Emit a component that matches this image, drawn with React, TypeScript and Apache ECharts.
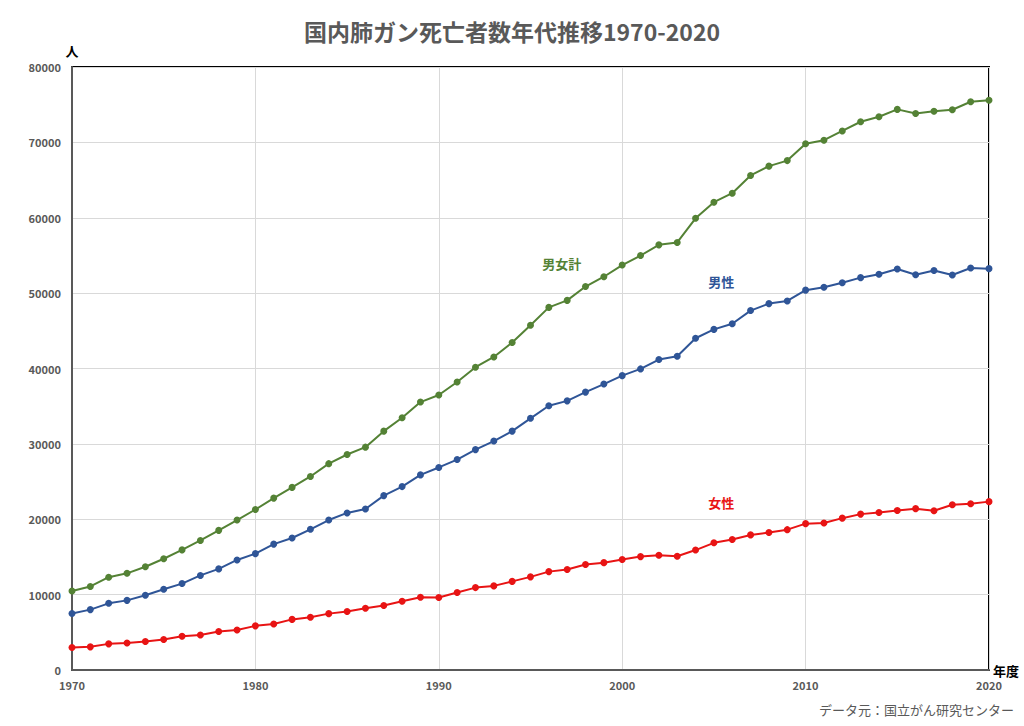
import React, { useEffect, useRef } from "react";
import * as echarts from "echarts";

const years: number[] = [];
for (let y = 1970; y <= 2020; y++) years.push(y);

const totalDeaths = [
  10489, 11082, 12312, 12825, 13697, 14759, 15934, 17192, 18525, 19895,
  21294, 22803, 24227, 25676, 27375, 28590, 29564, 31690, 33465, 35546,
  36486, 38204, 40172, 41535, 43450, 45745, 48106, 49036, 50871, 52176,
  53724, 54990, 56405, 56720, 59922, 62063, 63255, 65608, 66849, 67583,
  69813, 70293, 71518, 72734, 73396, 74378, 73838, 74120, 74328, 75394,
  75585,
];
const maleDeaths = [
  7502, 8010, 8845, 9238, 9908, 10711, 11465, 12548, 13414, 14599,
  15438, 16700, 17514, 18669, 19896, 20837, 21368, 23138, 24333, 25887,
  26872, 27921, 29239, 30375, 31693, 33389, 35054, 35707, 36868, 37934,
  39053, 39946, 41192, 41634, 44011, 45189, 45941, 47685, 48610, 48964,
  50395, 50782, 51372, 52054, 52505, 53208, 52430, 53002, 52401, 53338,
  53247,
];
const femaleDeaths = [
  2987, 3072, 3467, 3587, 3789, 4048, 4469, 4644, 5111, 5296,
  5856, 6103, 6713, 7007, 7479, 7753, 8196, 8552, 9132, 9659,
  9614, 10283, 10933, 11160, 11757, 12356, 13052, 13329, 14003, 14242,
  14671, 15044, 15213, 15086, 15911, 16874, 17314, 17923, 18239, 18619,
  19418, 19511, 20146, 20680, 20891, 21170, 21408, 21118, 21927, 22056,
  22338,
];

const seriesNames = ["男女計", "男性", "女性"];
const seriesColors = ["#548235", "#2f5597", "#e81414"];
const labelAnchors: [number, number][] = [
  [1996.7, 53900],
  [2005.4, 51500],
  [2005.4, 22200],
];

const FONT = "'Noto Sans CJK JP', 'Noto Sans', sans-serif";

export default function App() {
  const ref = useRef<HTMLDivElement>(null);
  useEffect(() => {
    if (!ref.current) return;
    const chart = echarts.init(ref.current, undefined, { renderer: "svg" });
    const dataSets = [totalDeaths, maleDeaths, femaleDeaths];
    chart.setOption({
      animation: false,
      backgroundColor: "#ffffff",
      textStyle: { fontFamily: FONT },
      title: {
        text: "国内肺ガン死亡者数年代推移1970-2020",
        left: "center",
        top: 14,
        textStyle: {
          fontFamily: FONT,
          fontSize: 23,
          fontWeight: "bold",
          color: "#595959",
        },
      },
      graphic: [
        {
          type: "text",
          right: 10,
          top: 703,
          style: {
            text: "データ元：国立がん研究センター",
            fontFamily: FONT,
            fontSize: 13,
            fill: "#595959",
          },
        },
      ],
      grid: {
        left: 72,
        right: 35,
        top: 67,
        bottom: 56,
        show: true,
        borderColor: "#000000",
        borderWidth: 2,
      },
      xAxis: {
        type: "value",
        min: 1970,
        max: 2020,
        interval: 10,
        name: "年度",
        nameLocation: "end",
        nameGap: 4,
        nameTextStyle: {
          fontFamily: FONT,
          fontSize: 13,
          fontWeight: "bold",
          color: "#000000",
          verticalAlign: "middle",
        },
        axisLine: { show: true, lineStyle: { color: "#595959", width: 2 } },
        axisTick: { show: false },
        axisLabel: {
          formatter: (v: number) => String(v),
          fontFamily: FONT,
          fontSize: 11,
          fontWeight: "bold",
          color: "#595959",
          margin: 9,
        },
        splitLine: { show: true, lineStyle: { color: "#d9d9d9", width: 1 } },
      },
      yAxis: {
        type: "value",
        min: 0,
        max: 80000,
        interval: 10000,
        name: "人",
        nameLocation: "end",
        nameGap: 10,
        nameTextStyle: {
          fontFamily: FONT,
          fontSize: 13,
          fontWeight: "bold",
          color: "#000000",
          align: "center",
        },
        axisLine: { show: true, lineStyle: { color: "#595959", width: 2 } },
        axisTick: { show: false },
        axisLabel: {
          formatter: (v: number) => String(v),
          fontFamily: FONT,
          fontSize: 11,
          fontWeight: "bold",
          color: "#595959",
          margin: 11,
        },
        splitLine: { show: true, lineStyle: { color: "#d9d9d9", width: 1 } },
      },
      series: dataSets.map((vals, i) => ({
        name: seriesNames[i],
        type: "line",
        data: years.map((y, j) => [y, vals[j]]),
        symbol: "circle",
        symbolSize: 7,
        lineStyle: { color: seriesColors[i], width: 2 },
        itemStyle: { color: seriesColors[i] },
        markPoint: {
          symbol: "circle",
          symbolSize: 0,
          silent: true,
          data: [
            {
              coord: labelAnchors[i],
              label: {
                show: true,
                position: "inside",
                formatter: seriesNames[i],
                fontFamily: FONT,
                fontSize: 13,
                fontWeight: "bold",
                color: seriesColors[i],
              },
            },
          ],
        },
      })),
    });
    return () => chart.dispose();
  }, []);
  return (
    <div
      ref={ref}
      style={{ position: "absolute", left: 0, top: 0, width: 1024, height: 726 }}
    />
  );
}
